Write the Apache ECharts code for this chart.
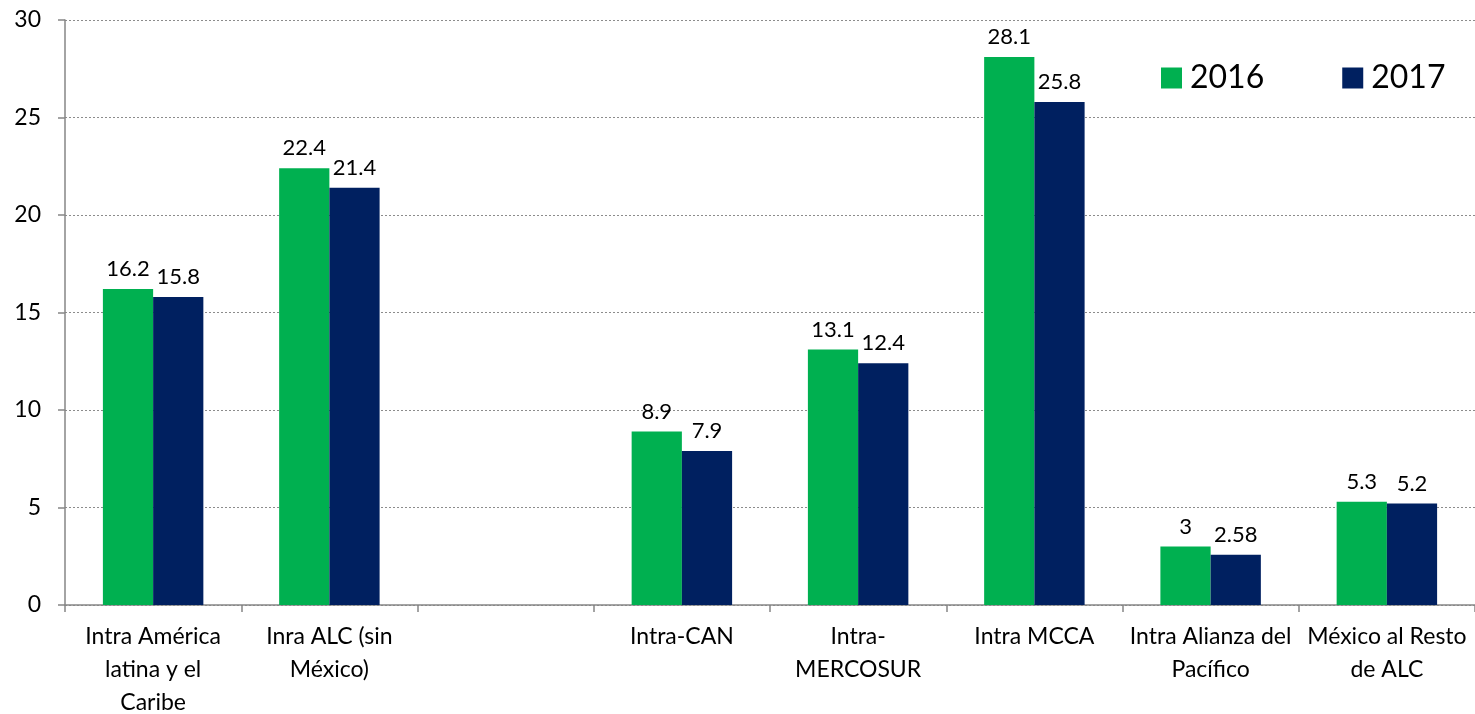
<!DOCTYPE html>
<html><head><meta charset="utf-8">
<script src="https://cdn.jsdelivr.net/npm/echarts@6/dist/echarts.min.js"></script>
<style>html,body{margin:0;padding:0;background:#fff}#c{width:1475px;height:714px}</style>
</head><body><div id="c"></div>
<script>
const categories = ['Intra América\nlatina y el\nCaribe', 'Inra ALC (sin\nMéxico)', '', 'Intra-CAN', 'Intra-\nMERCOSUR', 'Intra MCCA', 'Intra Alianza del\nPacífico', 'México al Resto\nde ALC'];
const values2016 = [16.2, 22.4, null, 8.9, 13.1, 28.1, 3, 5.3];
const values2017 = [15.8, 21.4, null, 7.9, 12.4, 25.8, 2.58, 5.2];
const seriesNames = ['2016', '2017'];
const yTicks = {min: 0, max: 30, interval: 5};

const font = 'Lato, "Open Sans", sans-serif';
const chart = echarts.init(document.getElementById('c'));
const labelCfg = {show: true, position: 'top', distance: 9, color: '#000', fontSize: 22, fontFamily: font};
chart.setOption({
  animation: false,
  grid: {left: 65, right: 0, top: 20, bottom: 109, containLabel: false, outerBoundsMode: 'none'},
  legend: {
    left: 1156, top: 57, itemWidth: 21, itemHeight: 21, itemGap: 78,
    icon: 'rect',
    textStyle: {fontSize: 32, fontFamily: font, color: '#000', padding: [0, 0, 0, 3]},
    data: seriesNames
  },
  xAxis: {
    type: 'category', data: categories,
    axisLine: {lineStyle: {color: '#868686', width: 1.5}},
    axisTick: {show: true, length: 7, lineStyle: {color: '#868686', width: 1.5}},
    axisLabel: {color: '#000', fontSize: 23, fontFamily: font, lineHeight: 33, margin: 15, interval: 0}
  },
  yAxis: {
    type: 'value', min: yTicks.min, max: yTicks.max, interval: yTicks.interval,
    axisLine: {show: true, lineStyle: {color: '#868686', width: 1.5}},
    axisTick: {show: true, length: 7, lineStyle: {color: '#868686', width: 1.5}},
    axisLabel: {color: '#000', fontSize: 23, fontFamily: font, margin: 24},
    splitLine: {lineStyle: {color: '#8c8c8c', type: [2, 2], width: 1}}
  },
  series: [
    {name: seriesNames[0], type: 'bar', data: values2016, barGap: '0%', barCategoryGap: '43%',
     itemStyle: {color: '#00B050'}, label: labelCfg},
    {name: seriesNames[1], type: 'bar', data: values2017, barGap: '0%', barCategoryGap: '43%',
     itemStyle: {color: '#002060'}, label: labelCfg}
  ]
});
</script></body></html>
